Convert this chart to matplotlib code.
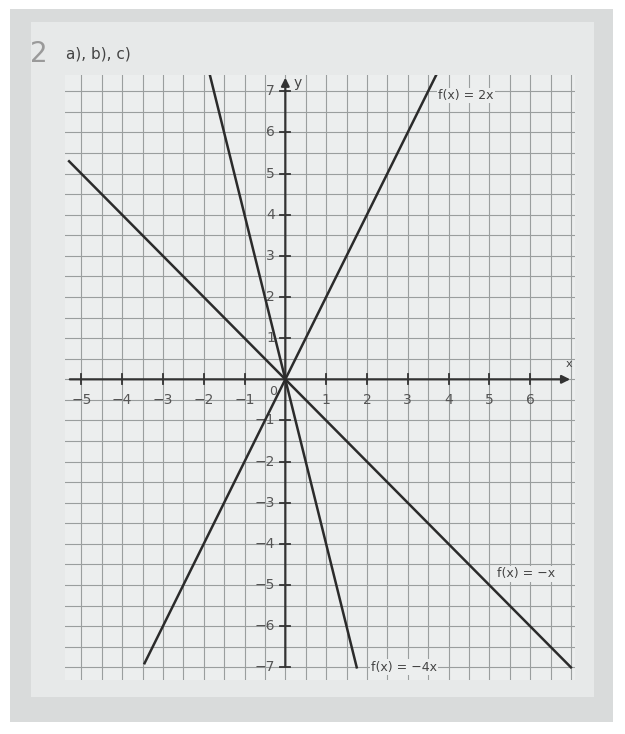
import numpy as np
import matplotlib.pyplot as plt
from matplotlib.patches import Rectangle

# Funktionen: Steigung, Start- und End-x
namen = ['f(x) = 2x', 'f(x) = −x', 'f(x) = −4x']
steigungen = [2, -1, -4]
x_start = [-3.45, -5.3, -1.88]
x_ende = [3.7, 7.0, 1.75]
label_pos = [(3.75, 6.9), (5.2, -4.73), (2.1, -7.0)]

x_ticks = [-5, -4, -3, -2, -1, 1, 2, 3, 4, 5, 6]
y_ticks = [-7, -6, -5, -4, -3, -2, -1, 1, 2, 3, 4, 5, 6, 7]

fig = plt.figure(figsize=(6.25, 7.34), dpi=100)
fig.patch.set_facecolor('white')
# Foto-Hintergrund
fig.patches.append(Rectangle((0.016, 0.016), 0.965, 0.972, transform=fig.transFigure,
                             facecolor='#d9dbdb', edgecolor='none', zorder=-10))
fig.patches.append(Rectangle((0.05, 0.05), 0.9, 0.92, transform=fig.transFigure,
                             facecolor='#e7e9e9', edgecolor='none', zorder=-9))

ax = fig.add_axes([0.104, 0.074, 0.816, 0.824])
ax.set_zorder(1)
ax.set_facecolor('#eceeee')
ax.set_xlim(-5.4, 7.1)
ax.set_ylim(-7.3, 7.4)

# Kaestchenraster
for gx in np.arange(-5.0, 7.01, 0.5):
    ax.axvline(gx, color='#9a9e9e', lw=0.8, zorder=1)
for gy in np.arange(-7.0, 7.31, 0.5):
    ax.axhline(gy, color='#9a9e9e', lw=0.8, zorder=1)
for s in ax.spines.values():
    s.set_visible(False)
ax.set_xticks([])
ax.set_yticks([])

# Achsen mit Pfeilen
ax.annotate('', xy=(7.05, 0), xytext=(-5.35, 0),
            arrowprops=dict(arrowstyle='-|>', color='#333', lw=1.6, mutation_scale=12), zorder=3)
ax.annotate('', xy=(0, 7.4), xytext=(0, -7.05),
            arrowprops=dict(arrowstyle='-|>', color='#333', lw=1.6, mutation_scale=12), zorder=3)
ax.text(6.95, 0.25, 'x', fontsize=8, color='#444', ha='center', va='bottom')
ax.text(0.3, 7.2, 'y', fontsize=10, color='#444', ha='center', va='center')

for t in x_ticks:
    ax.plot([t, t], [-0.12, 0.12], color='#333', lw=1.3, zorder=3)
    lab = str(t).replace('-', '−')
    ax.text(t, -0.5, lab, fontsize=10, color='#555', ha='center', va='center')
for t in y_ticks:
    ax.plot([-0.12, 0.12], [t, t], color='#333', lw=1.3, zorder=3)
    lab = str(t).replace('-', '−')
    ax.text(-0.25, t, lab, fontsize=10, color='#555', ha='right', va='center')
ax.text(-0.3, -0.3, '0', fontsize=9, color='#555', ha='center', va='center')

# Graphen
for m, xa, xe, name, pos in zip(steigungen, x_start, x_ende, namen, label_pos):
    xs = np.array([xa, xe])
    ax.plot(xs, m * xs, color='#2b2b2b', lw=1.8, zorder=4)
    ax.text(pos[0], pos[1], name, fontsize=9, color='#444', ha='left', va='center', zorder=5,
            bbox=dict(facecolor='#eceeee', edgecolor='none', pad=1))

fig.text(0.048, 0.926, '2', fontsize=20, color='#9a9a9a', ha='left', va='center')
fig.text(0.105, 0.926, 'a), b), c)', fontsize=11, color='#444', ha='left', va='center')

fig.savefig('out.png', dpi=100)
